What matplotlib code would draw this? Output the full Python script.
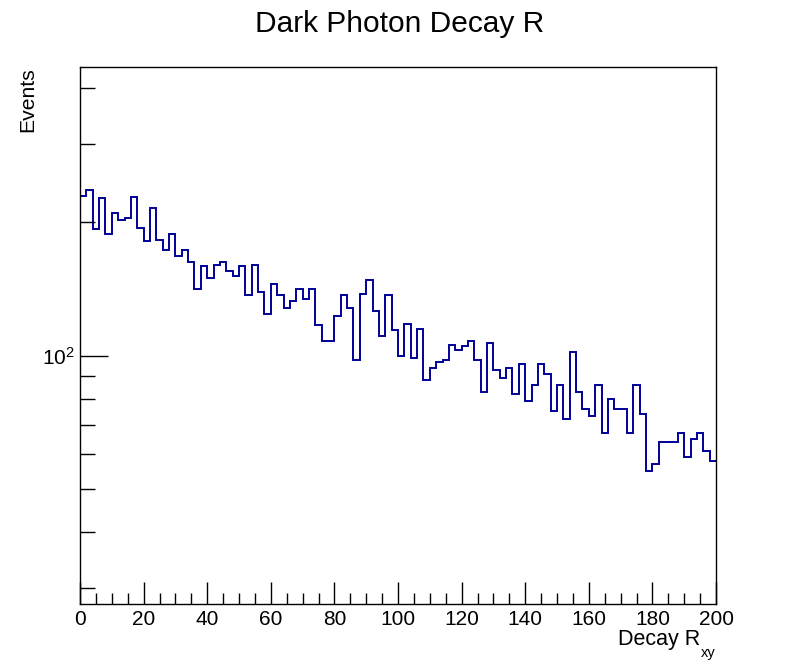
import numpy as np
import matplotlib
matplotlib.use("Agg")
import matplotlib.pyplot as plt
from matplotlib.ticker import FixedLocator, NullFormatter, FixedFormatter

plt.rcParams['font.family'] = ['Liberation Sans', 'DejaVu Sans']
plt.rcParams['mathtext.fontset'] = 'custom'
plt.rcParams['mathtext.rm'] = 'Liberation Sans'
plt.rcParams['mathtext.it'] = 'Liberation Sans'

# Data: 100 bins from 0 to 200
bin_edges = np.linspace(0, 200, 101)
counts = [
    229, 236, 193, 227, 188, 210, 202, 204, 228, 194,
    181, 215, 182, 173, 188, 168, 173, 163, 141, 159,
    150, 160, 163, 155, 151, 159, 137, 160, 139, 124,
    145, 137, 128, 133, 141, 134, 141, 117, 108, 108,
    123, 137, 128, 98, 138, 148, 126, 111, 137, 114,
    100, 118, 99, 115, 88, 94, 97, 98, 106, 103,
    105, 108, 98, 83, 107, 93, 89, 94, 82, 96,
    79, 86, 96, 91, 75, 86, 72, 102, 83, 76,
    73, 86, 67, 80, 76, 76, 67, 86, 74, 55,
    57, 64, 64, 64, 67, 59, 65, 67, 61, 58,
]
x_ticks = [0, 20, 40, 60, 80, 100, 120, 140, 160, 180, 200]
y_major = [100]
y_minor = [30, 40, 50, 60, 70, 80, 90, 200, 300, 400]

W, H = 796, 672
fig = plt.figure(figsize=(W / 100, H / 100), dpi=100)
ax = fig.add_axes([80 / W, 1 - 604 / H, (716 - 80) / W, (604 - 67) / H])

ax.stairs(counts, bin_edges, color='#000099', lw=1.4, baseline=None)

ax.set_yscale('log')
ax.set_xlim(0, 200)
ax.set_ylim(27.6, 447)

ax.xaxis.set_major_locator(FixedLocator(x_ticks))
ax.xaxis.set_minor_locator(FixedLocator(np.arange(0, 201, 5)))
ax.set_xticklabels([str(t) for t in x_ticks])
ax.yaxis.set_major_locator(FixedLocator(y_major))
ax.yaxis.set_major_formatter(FixedFormatter([r'$\mathregular{10^{2}}$']))
ax.yaxis.set_minor_locator(FixedLocator(y_minor))
ax.yaxis.set_minor_formatter(NullFormatter())

ax.tick_params(axis='x', which='major', direction='in', length=16, width=1, labelsize=15, pad=4)
ax.tick_params(axis='x', which='minor', direction='in', length=8, width=1)
ax.tick_params(axis='y', which='major', direction='in', length=20, width=1, labelsize=15, pad=4)
ax.tick_params(axis='y', which='minor', direction='in', length=10.5, width=1)
for s in ax.spines.values():
    s.set_linewidth(1)

fig.text(400 / W, 1 - 32 / H, 'Dark Photon Decay R', ha='center', va='baseline', fontsize=21.5)
fig.text(700 / W, 1 - 645 / H, 'Decay R', ha='right', va='baseline', fontsize=15.5)
fig.text(701 / W, 1 - 657 / H, 'xy', ha='left', va='baseline', fontsize=10.5)
fig.text(28 / W, 1 - 67 / H, 'Events', ha='center', va='top', rotation=90, fontsize=15.2)

fig.savefig('out.png', dpi=100)
